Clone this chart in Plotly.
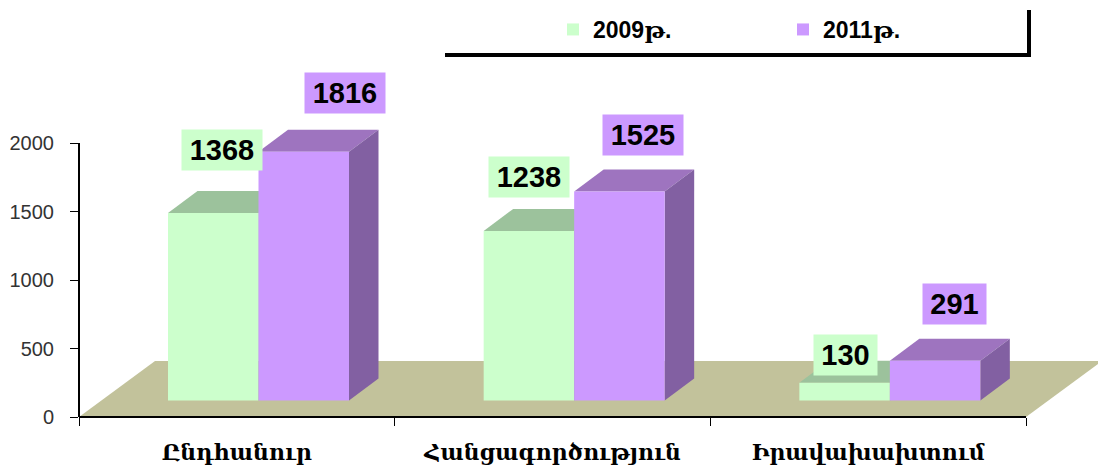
import plotly.graph_objects as go

CATEGORIES = ["Ընդհանուր", "Հանցագործություն", "Իրավախախտում"]
YEAR_2009 = [1368, 1238, 130]
YEAR_2011 = [1816, 1525, 291]
LEGEND_NAMES = ["2009թ.", "2011թ."]
Y_TICKS = [0, 500, 1000, 1500, 2000]

W, H = 1098, 472
L, B = 79, 55
PX_X = 315.67
PX_Y = 0.137
XMAX = (W - L) / PX_X
YMAX = (H - B) / PX_Y
PLOT_W, PLOT_H = W - L, H - B

GREEN, PURPLE = "#CCFFCC", "#CC99FF"
GREEN_TOP, GREEN_SIDE = "#9CC29C", "#7FA37F"
PURPLE_TOP, PURPLE_SIDE = "#9E74BF", "#8260A2"
FLOOR = "#C2C29B"
SANS = "Liberation Sans, DejaVu Serif, serif"

BAR_W = 90.5 / PX_X
OFF_1 = (168 - L) / PX_X - 0.5
OFF_2 = OFF_1 + BAR_W
BASE = 16.5 / PX_Y
DX, DY = 29.5 / PX_X, 22 / PX_Y
FLOOR_DX, FLOOR_DY = 76 / PX_X, 56 / PX_Y
centres = [i + 0.5 for i in range(len(CATEGORIES))]


def poly(points, color):
    path = "M " + " L ".join(f"{x},{y}" for x, y in points) + " Z"
    return dict(type="path", path=path, xref="x", yref="y", fillcolor=color,
                line=dict(width=0), layer="below")


shapes = [poly([(0, 0), (FLOOR_DX, FLOOR_DY), (3 + FLOOR_DX, FLOOR_DY), (3, 0)], FLOOR)]
for vals, off, top, side in [(YEAR_2009, OFF_1, GREEN_TOP, GREEN_SIDE),
                             (YEAR_2011, OFF_2, PURPLE_TOP, PURPLE_SIDE)]:
    for c, v in zip(centres, vals):
        x0, x1 = c + off, c + off + BAR_W
        y0, y1 = BASE, BASE + v
        shapes.append(poly([(x0, y1), (x0 + DX, y1 + DY), (x1 + DX, y1 + DY), (x1, y1)], top))
        shapes.append(poly([(x1, y0), (x1 + DX, y0 + DY), (x1 + DX, y1 + DY), (x1, y1)], side))

# axis lines stop at the last tick while the plot area runs on to the page edge;
# paper references keep them from being clipped at the plot edge
AXIS = dict(color="#000000", width=2)
shapes.append(dict(type="line", xref="paper", yref="paper", x0=0, x1=0, y0=0, y1=2000 / YMAX, line=AXIS, layer="above"))
shapes.append(dict(type="line", xref="paper", yref="paper", x0=0, x1=3 / XMAX, y0=0, y1=0, line=AXIS, layer="above"))
# legend frame
FRAME = dict(color="#000000", width=4)
shapes.append(dict(type="line", xref="paper", yref="paper", x0=(445 - L) / PLOT_W, x1=(1030 - L) / PLOT_W, layer="above",
                   y0=(PLOT_H - 55) / PLOT_H, y1=(PLOT_H - 55) / PLOT_H, line=FRAME))
shapes.append(dict(type="line", xref="paper", yref="paper", x0=(1029 - L) / PLOT_W, x1=(1029 - L) / PLOT_W, layer="above",
                   y0=(PLOT_H - 57) / PLOT_H, y1=(PLOT_H - 10) / PLOT_H, line=FRAME))

fig = go.Figure()
for name, vals, off, col in [(LEGEND_NAMES[0], YEAR_2009, OFF_1, GREEN),
                             (LEGEND_NAMES[1], YEAR_2011, OFF_2, PURPLE)]:
    fig.add_trace(go.Bar(x=centres, y=vals, base=BASE, name=name, width=BAR_W, offset=off,
                         marker=dict(color=col, line=dict(width=0)), hoverinfo="skip"))

# label nudges from each bar's centre and top, in pixels
NUDGE_2009 = [(9, -63), (0, -54), (1, -28)]
NUDGE_2011 = [(41, -59), (24, -57), (19, -57)]
annotations = []
for vals, off, col, nudges in [(YEAR_2009, OFF_1, GREEN, NUDGE_2009),
                               (YEAR_2011, OFF_2, PURPLE, NUDGE_2011)]:
    for c, v, (nx, ny) in zip(centres, vals, nudges):
        annotations.append(dict(x=c + off + BAR_W / 2, y=BASE + v, xref="x", yref="y",
                                xshift=nx, yshift=-ny, text=str(v), showarrow=False,
                                bgcolor=col, width=78 if v >= 1000 else 61, height=38,
                                font=dict(family=SANS, size=29, color="#000000", weight="bold")))

fig.update_layout(
    width=W, height=H, autosize=False, margin=dict(l=L, r=0, t=0, b=B, autoexpand=False),
    paper_bgcolor="white", plot_bgcolor="white", barmode="overlay",
    shapes=shapes, annotations=annotations,
    xaxis=dict(range=[0, XMAX], tickvals=centres, ticktext=CATEGORIES, ticks="", showgrid=False,
               zeroline=False, showline=False, ticklabelstandoff=20, automargin=False,
               tickfont=dict(family="Liberation Serif, DejaVu Serif, serif", size=22, color="#000000", weight="bold"),
               minor=dict(tickvals=[0, 1, 2, 3], ticks="outside", ticklen=8, tickwidth=1, tickcolor="#000000")),
    yaxis=dict(range=[0, YMAX], tickvals=Y_TICKS, ticks="outside", ticklen=8, tickwidth=1, automargin=False,
               tickcolor="#000000", showgrid=False, zeroline=False, showline=False, ticklabelstandoff=12,
               tickfont=dict(family=SANS, size=20, color="#333333")),
    legend=dict(orientation="h", x=(553 - L) / PLOT_W, xanchor="left", y=1 - 8 / PLOT_H, yanchor="top",
                entrywidth=185, entrywidthmode="pixels", bgcolor="rgba(0,0,0,0)", traceorder="normal",
                font=dict(family=SANS, size=23, color="#000000", weight="bold")),
)
fig.write_html("out.html", config=dict(displayModeBar=False),
               post_script="document.body.style.margin='0';")
